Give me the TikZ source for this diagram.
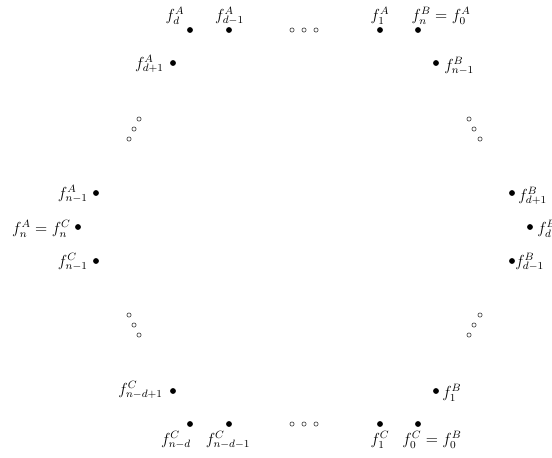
\documentclass[tikz,border=0pt]{standalone}
\begin{document}
\begin{tikzpicture}[x=0.75pt,y=-0.75pt,
  dot/.style={circle,fill=black,inner sep=0pt,minimum size=4.4pt},
  odot/.style={circle,draw=black!80,line width=0.45pt,inner sep=0pt,minimum size=3.2pt},
  lab/.style={inner sep=0pt,font=\fontsize{11.6}{14}\selectfont}]
\useasboundingbox (0,0) rectangle (552,457);
% filled dots
\node[dot] (Ad)   at (190,30) {};
\node[dot] (Adm)  at (229,30) {};
\node[dot] (Aone) at (380,30) {};
\node[dot] (Azero) at (418,30) {};
\node[dot] (Adp)  at (173,63) {};
\node[dot] (Bnm)  at (436,63) {};
\node[dot] (Anm)  at (96,193) {};
\node[dot] (An)   at (78,227) {};
\node[dot] (Cnm)  at (96,261) {};
\node[dot] (Bdp)  at (512,193) {};
\node[dot] (Bd)   at (530,227) {};
\node[dot] (Bdm)  at (512,261) {};
\node[dot] (Cndp) at (173,391) {};
\node[dot] (Cnd)  at (190,424) {};
\node[dot] (Cndm) at (229,424) {};
\node[dot] (Cone) at (380,424) {};
\node[dot] (Czero) at (418,424) {};
\node[dot] (Bone) at (436,391) {};
% open dots
\node[odot] (t1) at (292,30) {};
\node[odot] (t2) at (304,30) {};
\node[odot] (t3) at (316,30) {};
\node[odot] (b1) at (292,424) {};
\node[odot] (b2) at (304,424) {};
\node[odot] (b3) at (316,424) {};
\node[odot] (ul1) at (139,119) {};
\node[odot] (ul2) at (134,129) {};
\node[odot] (ul3) at (129,139) {};
\node[odot] (ur1) at (469,119) {};
\node[odot] (ur2) at (474,129) {};
\node[odot] (ur3) at (480,139) {};
\node[odot] (ll1) at (129,315) {};
\node[odot] (ll2) at (134,325) {};
\node[odot] (ll3) at (139,335) {};
\node[odot] (lr1) at (480,315) {};
\node[odot] (lr2) at (474,325) {};
\node[odot] (lr3) at (469,335) {};
% labels
\node[lab] (lAd)   at (175,16) {$f_d^A$};
\node[lab] (lAdm)  at (229.5,16) {$f_{d-1}^A$};
\node[lab] (lAone) at (380,16) {$f_1^A$};
\node[lab] (lAzero) at (441,16) {$f_n^B=f_0^A$};
\node[lab,anchor=east] (lAdp) at (164,64) {$f_{d+1}^A$};
\node[lab,anchor=west] (lBnm) at (444,66) {$f_{n-1}^B$};
\node[lab,anchor=east] (lAnm) at (88,194) {$f_{n-1}^A$};
\node[lab,anchor=east] (lAn)  at (71,229) {$f_n^A=f_n^C$};
\node[lab,anchor=east] (lCnm) at (88,262) {$f_{n-1}^C$};
\node[lab,anchor=west] (lBdp) at (518,196) {$f_{d+1}^B$};
\node[lab,anchor=west] (lBd)  at (537,229) {$f_d^B$};
\node[lab,anchor=west] (lBdm) at (515,262) {$f_{d-1}^B$};
\node[lab,anchor=east] (lCndp) at (163,390) {$f_{n-d+1}^C$};
\node[lab] (lCnd)  at (176,440) {$f_{n-d}^C$};
\node[lab] (lCndm) at (228,440) {$f_{n-d-1}^C$};
\node[lab] (lCone) at (380,440) {$f_1^C$};
\node[lab] (lCzero) at (432,440) {$f_0^C=f_0^B$};
\node[lab,anchor=west] (lBone) at (442,393) {$f_1^B$};
\end{tikzpicture}
\end{document}
